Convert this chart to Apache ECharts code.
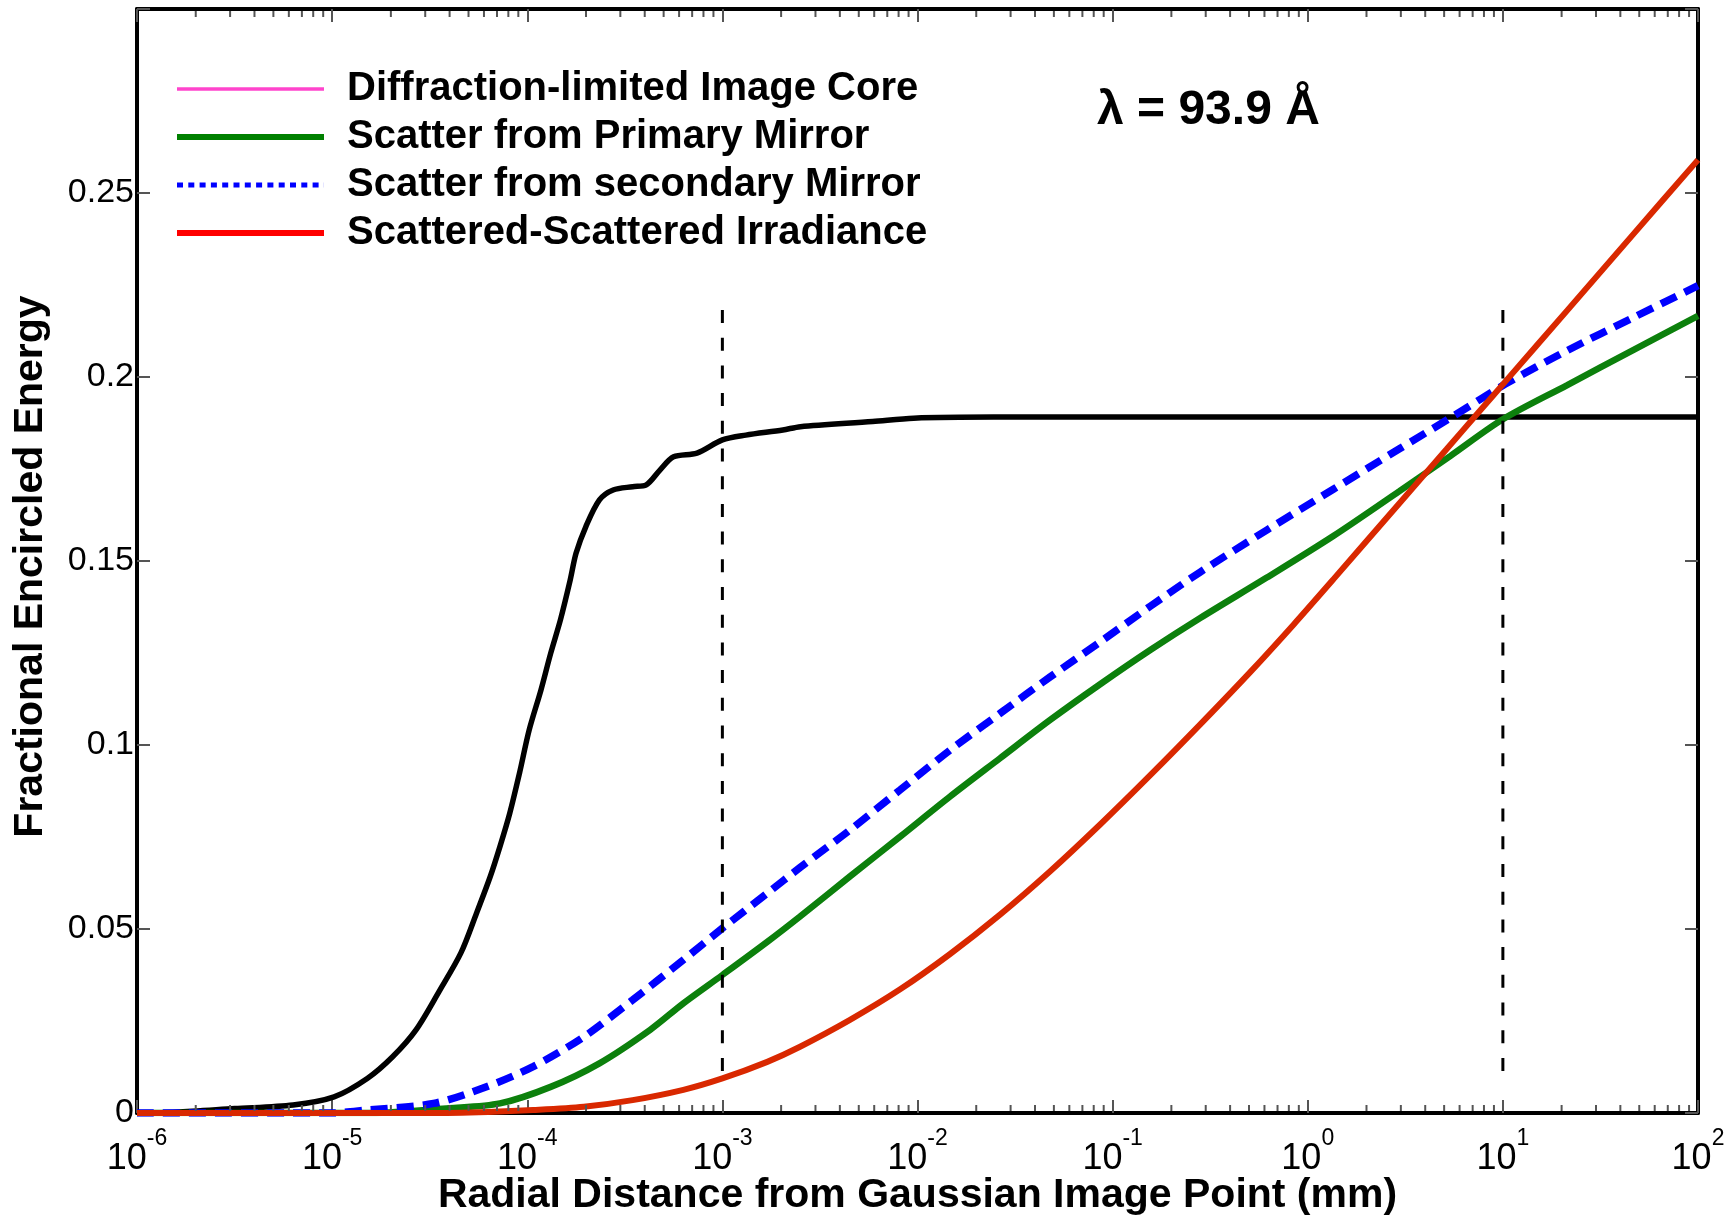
<!DOCTYPE html>
<html>
<head>
<meta charset="utf-8">
<script src="https://cdn.jsdelivr.net/npm/echarts@6/dist/echarts.min.js"></script>
<style>html,body{margin:0;padding:0;background:#fff}#c{width:1736px;height:1215px}</style>
</head>
<body>
<div id="c"></div>
<script>
const FONT = '"Liberation Sans", Arial, Helvetica, sans-serif';

// ---- labels / ticks ----
const seriesNames = ['Diffraction-limited Image Core', 'Scatter from Primary Mirror', 'Scatter from secondary Mirror', 'Scattered-Scattered Irradiance'];
const xExponents = [-6, -5, -4, -3, -2, -1, 0, 1, 2];
const yTickLabels = ['0', '0.05', '0.1', '0.15', '0.2', '0.25'];
const annotationText = 'λ = 93.9 Å';
const xTitle = 'Radial Distance from Gaussian Image Point (mm)';
const yTitle = 'Fractional Encircled Energy';

// ---- data (log10 of radial distance in mm, fractional encircled energy) ----
const coreLogX = [-6.0, -5.8, -5.5, -5.2, -4.99, -4.82, -4.69, -4.57, -4.45, -4.34, -4.26, -4.19, -4.14, -4.09, -4.04, -3.99, -3.93, -3.88, -3.83, -3.78, -3.75, -3.70, -3.63, -3.56, -3.46, -3.39, -3.32, -3.25, -3.13, -3.00, -2.88, -2.69, -2.60, -2.23, -2.02, -1.61, -1.0, 0.0, 1.0, 2.0];
const coreY    = [0, 0.0002, 0.0012, 0.0022, 0.0044, 0.0094, 0.0153, 0.0226, 0.0332, 0.0435, 0.0543, 0.0642, 0.0724, 0.0814, 0.0923, 0.1041, 0.1149, 0.1249, 0.1340, 0.1448, 0.1521, 0.1593, 0.1666, 0.1693, 0.1702, 0.1707, 0.1747, 0.1783, 0.1793, 0.1829, 0.1842, 0.1856, 0.1865, 0.1879, 0.1888, 0.1891, 0.1891, 0.1891, 0.1891, 0.1891];

const primaryLogX = [-6.0, -4.8, -4.40, -4.14, -3.88, -3.63, -3.37, -3.20, -3.00, -2.77, -2.602, -2.346, -2.089, -1.833, -1.577, -1.320, -1.064, -0.807, -0.551, -0.21, 0.131, 0.47, 0.73, 1.0, 1.33, 1.67, 2.0];
const primaryY    = [0, 0, 0.0013, 0.0026, 0.0071, 0.0135, 0.0226, 0.0298, 0.0375, 0.0465, 0.0534, 0.0643, 0.0751, 0.0860, 0.0964, 0.1068, 0.1165, 0.1258, 0.1345, 0.1455, 0.1568, 0.1690, 0.1785, 0.1885, 0.1978, 0.2074, 0.2166];

const secondaryLogX = [-6.0, -5.0, -4.82, -4.48, -4.23, -3.97, -3.71, -3.46, -3.20, -3.00, -2.77, -2.602, -2.346, -2.089, -1.833, -1.577, -1.320, -1.064, -0.807, -0.551, -0.21, 0.131, 0.47, 0.75, 1.01, 1.33, 1.67, 2.0];
const secondaryY    = [0, 0, 0.0008, 0.0026, 0.0067, 0.0126, 0.0207, 0.0307, 0.0416, 0.0502, 0.0597, 0.0667, 0.0769, 0.0878, 0.0986, 0.1086, 0.1185, 0.1280, 0.1377, 0.1470, 0.1584, 0.1695, 0.1805, 0.1895, 0.1980, 0.2072, 0.2162, 0.2248];

const ssLogX = [-6.0, -4.5, -4.2, -3.97, -3.71, -3.46, -3.20, -3.00, -2.77, -2.602, -2.346, -2.089, -1.833, -1.577, -1.320, -1.064, -0.807, -0.551, -0.295, -0.073, 0.131, 0.47, 0.71, 0.88, 1.01, 1.33, 1.67, 2.0];
const ssY    = [0, 0, 0.0003, 0.0008, 0.0017, 0.0035, 0.0063, 0.0094, 0.0139, 0.0180, 0.0253, 0.0336, 0.0432, 0.0539, 0.0657, 0.0784, 0.0918, 0.1056, 0.1198, 0.1327, 0.1450, 0.1657, 0.1803, 0.1907, 0.1986, 0.2181, 0.2389, 0.2590];

// vertical reference lines (drawn from top to bottom)
const refLineX = [1e-3, 10];
const refLineY = [0.2182, 0.0085];

// minor tick positions of the log axis (2..9 x 10^n)
const minorTicks = [];
for (let n = -6; n < 2; n++) for (let k = 2; k <= 9; k++) minorTicks.push(k * Math.pow(10, n));

function pts(lx, ys) { return lx.map((v, i) => [Math.pow(10, v), ys[i]]); }

const chart = echarts.init(document.getElementById('c'), null, {renderer: 'canvas'});

const tickStyle = {color: '#555', width: 2};
const frame = {color: '#000', width: 4};
const noSymbol = {opacity: 0};

const option = {
  backgroundColor: '#fff',
  animation: false,
  textStyle: {fontFamily: FONT},
  title: {
    text: annotationText, left: 1092, top: 82,
    textStyle: {fontFamily: FONT, fontSize: 48, fontWeight: 'bold', color: '#000'}
  },
  grid: {left: 137, right: 38, top: 9, bottom: 102, containLabel: false, outerBoundsMode: 'none'},
  legend: {
    orient: 'vertical', left: 169, top: 64,
    itemWidth: 147, itemHeight: 20, itemGap: 8,
    textStyle: {fontFamily: FONT, fontSize: 40, fontWeight: 'bold', color: '#000', lineHeight: 40, padding: [0, 0, 0, 18]},
    data: [
      {name: seriesNames[0], itemStyle: noSymbol, lineStyle: {color: '#ff44cc', width: 3.5, type: 'solid'}},
      {name: seriesNames[1], itemStyle: noSymbol, lineStyle: {color: '#008000', width: 6, type: 'solid'}},
      {name: seriesNames[2], itemStyle: noSymbol, lineStyle: {color: '#0000ff', width: 5, type: [6, 5.3]}},
      {name: seriesNames[3], itemStyle: noSymbol, lineStyle: {color: '#ff0000', width: 6, type: 'solid'}}
    ]
  },
  xAxis: [
    {
      type: 'log', logBase: 10, min: 1e-6, max: 100, interval: 1, splitNumber: 8, position: 'bottom',
      name: xTitle, nameLocation: 'middle', nameGap: 62, nameMoveOverlap: false,
      nameTextStyle: {fontFamily: FONT, fontSize: 41, fontWeight: 'bold', color: '#000'},
      axisLine: {show: true, onZero: false, lineStyle: frame},
      axisTick: {show: true, inside: true, length: 13, lineStyle: tickStyle},
      splitLine: {show: false},
      axisLabel: {
        margin: 14, color: '#000',
        formatter: function (v) { const e = Math.round(Math.log10(v)); return xExponents.indexOf(e) >= 0 ? '{b|10}{e|' + e + '}' : ''; },
        rich: {
          b: {fontFamily: FONT, fontSize: 36, color: '#000', lineHeight: 50, verticalAlign: 'bottom'},
          e: {fontFamily: FONT, fontSize: 23, color: '#000', lineHeight: 23, verticalAlign: 'top'}
        }
      }
    },
    {
      type: 'log', logBase: 10, min: 1e-6, max: 100, interval: 1, splitNumber: 8, position: 'top',
      axisLine: {show: true, onZero: false, lineStyle: frame},
      axisTick: {show: true, inside: true, length: 13, lineStyle: tickStyle},
      axisLabel: {show: false}, splitLine: {show: false}
    }
  ],
  yAxis: [
    {
      type: 'value', min: 0, max: 0.3, interval: 0.05, position: 'left',
      name: yTitle, nameLocation: 'middle', nameGap: 86, nameMoveOverlap: false,
      nameTextStyle: {fontFamily: FONT, fontSize: 41, fontWeight: 'bold', color: '#000', padding: [0, 11, 0, 0]},
      axisLine: {show: true, onZero: false, lineStyle: frame},
      axisTick: {show: true, inside: true, length: 13, lineStyle: tickStyle},
      splitLine: {show: false},
      axisLabel: {
        margin: 3, color: '#000', fontFamily: FONT, fontSize: 34,
        formatter: function (v) { const i = Math.round(v / 0.05); return yTickLabels[i] !== undefined ? yTickLabels[i] : ''; }
      }
    },
    {
      type: 'value', min: 0, max: 0.3, interval: 0.05, position: 'right',
      axisLine: {show: true, onZero: false, lineStyle: frame},
      axisTick: {show: true, inside: true, length: 13, lineStyle: tickStyle},
      axisLabel: {show: false}, splitLine: {show: false}
    }
  ],
  series: [
    {
      name: seriesNames[0], type: 'line', data: pts(coreLogX, coreY), showSymbol: false, symbol: 'none',
      smooth: 0.3, color: '#000', lineStyle: {color: '#000', width: 5.5}, z: 3
    },
    {
      name: seriesNames[1], type: 'line', data: pts(primaryLogX, primaryY), showSymbol: false, symbol: 'none',
      smooth: 0.3, color: '#0c800c', lineStyle: {color: '#0c800c', width: 6.5}, z: 4
    },
    {
      name: seriesNames[2], type: 'line', data: pts(secondaryLogX, secondaryY), showSymbol: false, symbol: 'none',
      smooth: 0.3, color: '#0000ff', lineStyle: {color: '#0000ff', width: 7.5, type: [17, 9]}, z: 5
    },
    {
      name: seriesNames[3], type: 'line', data: pts(ssLogX, ssY), showSymbol: false, symbol: 'none',
      smooth: 0.3, color: '#d92800', lineStyle: {color: '#d92800', width: 6}, z: 6
    },
    ...refLineX.map((x, i) => ({
      name: 'ref' + i, type: 'line', data: [[x, refLineY[0]], [x, refLineY[1]]], showSymbol: false, symbol: 'none',
      lineStyle: {color: '#000', width: 3, type: [13, 14.7]}, z: 7, silent: true
    })),
    {
      name: 'minorTicks', type: 'custom', silent: true, z: 8,
      data: minorTicks.map(v => [v, 0]),
      encode: {x: 0, y: 1},
      renderItem: function (params, api) {
        const v = api.value(0);
        const b = api.coord([v, 0]);
        const t = api.coord([v, 0.3]);
        const st = {stroke: '#555', lineWidth: 2};
        return {
          type: 'group',
          children: [
            {type: 'line', shape: {x1: b[0], y1: b[1] - 2, x2: b[0], y2: b[1] - 8}, style: st},
            {type: 'line', shape: {x1: t[0], y1: t[1] + 2, x2: t[0], y2: t[1] + 8}, style: st}
          ]
        };
      }
    }
  ]
};
chart.setOption(option);
</script>
</body>
</html>
